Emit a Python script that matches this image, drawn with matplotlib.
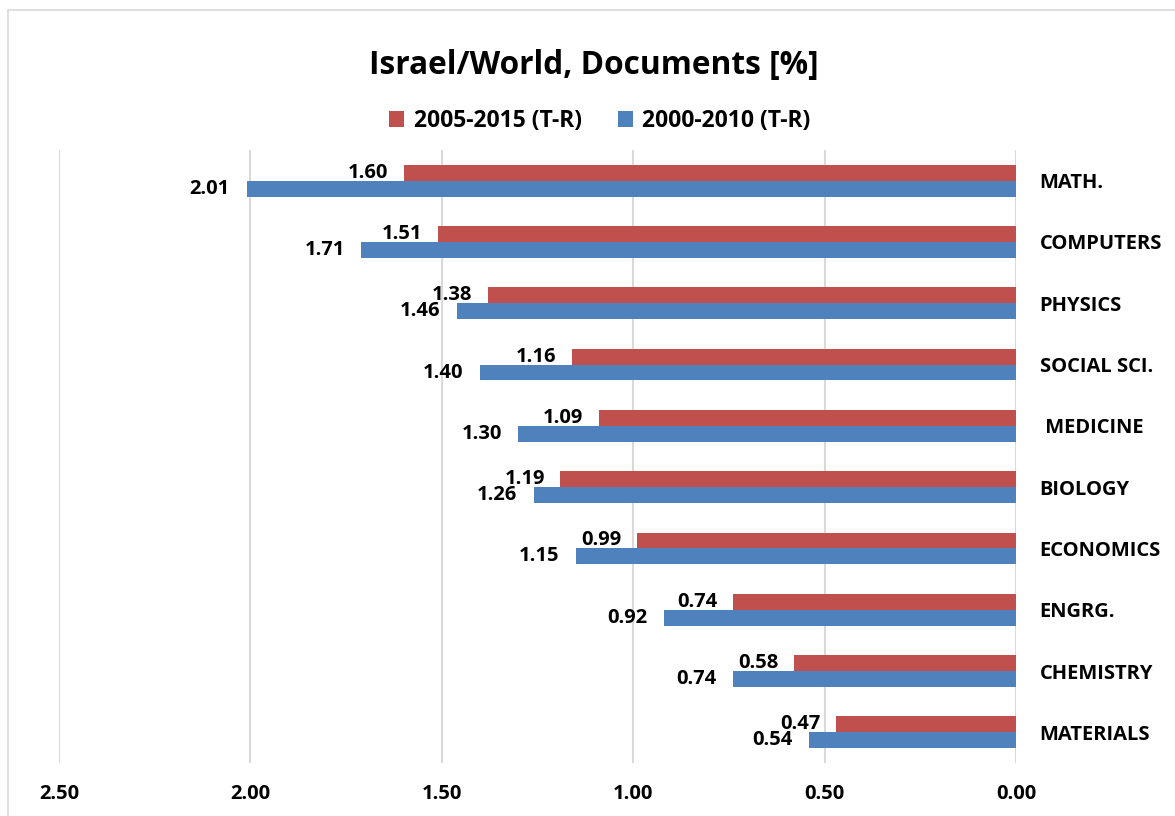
import matplotlib
matplotlib.use("Agg")
import matplotlib.pyplot as plt
from matplotlib.patches import Rectangle, Patch

categories = ["MATH.", "COMPUTERS", "PHYSICS", "SOCIAL SCI.", " MEDICINE",
              "BIOLOGY", "ECONOMICS", "ENGRG.", "CHEMISTRY", "MATERIALS"]
recent = [1.60, 1.51, 1.38, 1.16, 1.09, 1.19, 0.99, 0.74, 0.58, 0.47]
earlier = [2.01, 1.71, 1.46, 1.40, 1.30, 1.26, 1.15, 0.92, 0.74, 0.54]
x_ticks = [2.5, 2.0, 1.5, 1.0, 0.5, 0.0]
series_names = ["2005-2015 (T-R)", "2000-2010 (T-R)"]

RED = "#C0504D"
BLUE = "#4F81BD"
GRID = "#D9D9D9"
FONT = "Open Sans"
FS = 14.5

W, H = 1175, 816
fig = plt.figure(figsize=(W / 100, H / 100), dpi=100)
fig.patch.set_facecolor("white")

# light outer frame of the chart area
fig.add_artist(Rectangle((8 / W, -0.05), 1.2, (H - 10) / H + 0.05,
                         transform=fig.transFigure, fill=False,
                         edgecolor="#D9D9D9", linewidth=1.2))

ax = fig.add_axes([59 / W, 53 / H, (1016 - 59) / W, (763 - 150) / H])
ax.set_xlim(2.5, 0.0)
ax.set_ylim(len(categories) - 0.5, -0.5)

bh = 0.26
ypos = list(range(len(categories)))
ax.barh([y - bh / 2 for y in ypos], recent, height=bh, color=RED, zorder=3)
ax.barh([y + bh / 2 for y in ypos], earlier, height=bh, color=BLUE, zorder=3)

for y, v in zip(ypos, recent):
    ax.annotate(f"{v:.2f}", xy=(v, y - bh / 2), xytext=(-11, 0),
                textcoords="offset points", ha="right", va="center",
                fontsize=FS, fontweight="bold", family=FONT, zorder=4)
for y, v in zip(ypos, earlier):
    ax.annotate(f"{v:.2f}", xy=(v, y + bh / 2), xytext=(-12, 0),
                textcoords="offset points", ha="right", va="center",
                fontsize=FS, fontweight="bold", family=FONT, zorder=4)

ax.set_xticks(x_ticks)
ax.set_xticklabels([f"{t:.2f}" for t in x_ticks])
ax.grid(axis="x", color=GRID, linewidth=1.5, zorder=0)
ax.grid(axis="y", visible=False)
for s in ax.spines.values():
    s.set_visible(False)
ax.tick_params(axis="x", length=0, pad=15, labelsize=FS)
ax.set_yticks(ypos)
ax.set_yticklabels(categories)
ax.yaxis.tick_right()
ax.tick_params(axis="y", length=0, pad=17, labelsize=FS)
for lab in ax.get_xticklabels() + ax.get_yticklabels():
    lab.set_fontweight("bold")
    lab.set_family(FONT)

fig.text(594 / W, 1 - 65 / H, "Israel/World, Documents [%]", ha="center",
         va="center", fontsize=22.8, fontweight="bold", family=FONT)

handles = [Patch(facecolor=RED), Patch(facecolor=BLUE)]
leg = fig.legend(handles, series_names, loc="center",
                 bbox_to_anchor=(600 / W, 1 - 121 / H), ncol=2, frameon=False,
                 prop={"family": FONT, "weight": "bold", "size": 16.5},
                 handlelength=0.66, handleheight=0.66, handletextpad=0.4,
                 columnspacing=1.6)

fig.savefig("out.png", dpi=100, facecolor="white")
